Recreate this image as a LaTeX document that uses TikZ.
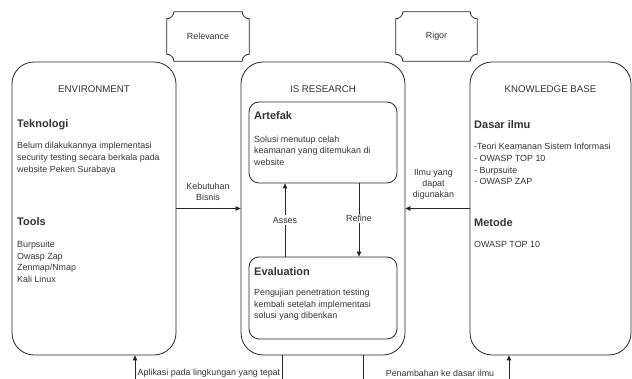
\documentclass[tikz,border=0pt]{standalone}
\usepackage{fontspec}
\setmainfont{Liberation Sans}
\usetikzlibrary{arrows.meta}

% plaque outline (concave corners) round a named node
\newcommand{\plaqueline}[1]{%
  \draw[ln] ([xshift=7pt]#1.north west) -- ([xshift=-7pt]#1.north east)
    arc[start angle=180, end angle=270, radius=7pt] -- ([yshift=7pt]#1.south east)
    arc[start angle=90, end angle=180, radius=7pt] -- ([xshift=7pt]#1.south west)
    arc[start angle=0, end angle=90, radius=7pt] -- ([yshift=-7pt]#1.north west)
    arc[start angle=270, end angle=360, radius=7pt];}

\begin{document}
\begin{tikzpicture}[x=1pt,y=1pt,
	every node/.style={font=\fontsize{8.9}{11.6}\selectfont, text=black!80, inner sep=0pt},
	ln/.style={draw=black!85, line width=0.8pt},
	arr/.style={ln, -{Triangle[length=5pt,width=4.5pt]}},
	bigbox/.style={ln, rounded corners=22pt, minimum width=164pt, minimum height=293pt},
	subbox/.style={ln, rounded corners=10pt, minimum width=148pt, minimum height=81pt},
	title/.style={font=\fontsize{9.7}{12}\selectfont},
	head/.style={font=\fontsize{11}{13}\selectfont\bfseries, anchor=west},
	txt/.style={anchor=west, align=left},
	lbl/.style={fill=white, inner sep=1.5pt}]
	\useasboundingbox (0,0) rectangle (632,379);
	% relevance / rigor
	\node[minimum width=82pt, minimum height=49pt] (rel) at (208,342.5) {Relevance}; \plaqueline{rel}
	\node[minimum width=81pt, minimum height=49pt] (rig) at (436.5,342.5) {Rigor}; \plaqueline{rig}
	% three columns
	\node[bigbox] (env) at (94,170.5) {};
	\node[bigbox] (isr) at (323,170.5) {};
	\node[bigbox, minimum width=161pt] (kb) at (550.5,170.5) {};
	\node[title] (envt) at (94,290) {ENVIRONMENT};
	\node[title] (isrt) at (323,290) {IS RESEARCH};
	\node[title] (kbt) at (550.5,290) {KNOWLEDGE BASE};
	% environment
	\node[head] (tek) at (17,254) {Teknologi};
	\node[txt] (tekd) at (17,220.7) {Belum dilakukannya implementasi\\security testing secara berkala pada\\website Peken Surabaya};
	\node[head] (tools) at (17,157) {Tools};
	\node[txt] (toolsd) at (17,117) {Burpsuite\\Owasp Zap\\Zenmap/Nmap\\Kali Linux};
	% knowledge base
	\node[head] (dasar) at (474,254) {Dasar ilmu};
	\node[txt] (dasard) at (474,214.8) {-Teori Keamanan Sistem Informasi\\- OWASP TOP 10\\- Burpsuite\\- OWASP ZAP};
	\node[head] (metode) at (474,156.7) {Metode};
	\node[txt] (metoded) at (474,135) {OWASP TOP 10};
	% is research
	\node[subbox] (art) at (323,236.5) {};
	\node[subbox, minimum height=82pt] (eva) at (323,81) {};
	\node[head] (artt) at (254,263) {Artefak};
	\node[txt] (artd) at (254,228.3) {Solusi menutup celah\\keamanan yang ditemukan di\\website};
	\node[head] (evat) at (254,107.3) {Evaluation};
	\node[txt] (evad) at (254,74) {Pengujian penetration testing\\kembali setelah implementasi\\solusi yang diberikan};
	\draw[arr] ([xshift=-38pt]eva.north) -- ([xshift=-38pt]art.south) node[lbl, pos=0.5] (asses) {Asses};
	\draw[arr] ([xshift=36pt]art.south) -- ([xshift=36pt]eva.north) node[lbl, pos=0.48] (refine) {Refine};
	% between columns
	\draw[arr] (env) -- (isr);
	\node[align=center, font=\fontsize{8.9}{11}\selectfont] (kebutuhan) at (208,187.5) {Kebutuhan\\Bisnis};
	\draw[arr] (kb) -- (isr);
	\node[align=center, font=\fontsize{8.9}{11}\selectfont] (ilmu) at (433.5,195) {Ilmu yang\\dapat\\digunakan};
	% bottom feedback
	\coordinate (envin) at (135,0); \draw[arr] (envin) -- (env.south -| envin);
	\coordinate (isout1) at (282,0); \draw[ln] (isr.south -| isout1) -- (isout1);
	\coordinate (isout2) at (363,0); \draw[ln] (isr.south -| isout2) -- (isout2);
	\coordinate (kbin) at (509,0); \draw[arr] (kbin) -- (kb.south -| kbin);
	\node[anchor=west] (aplikasi) at (137.5,6) {Aplikasi pada lingkungan yang tepat};
	\node (penambahan) at (440,6) {Penambahan ke dasar ilmu};
\end{tikzpicture}
\end{document}
